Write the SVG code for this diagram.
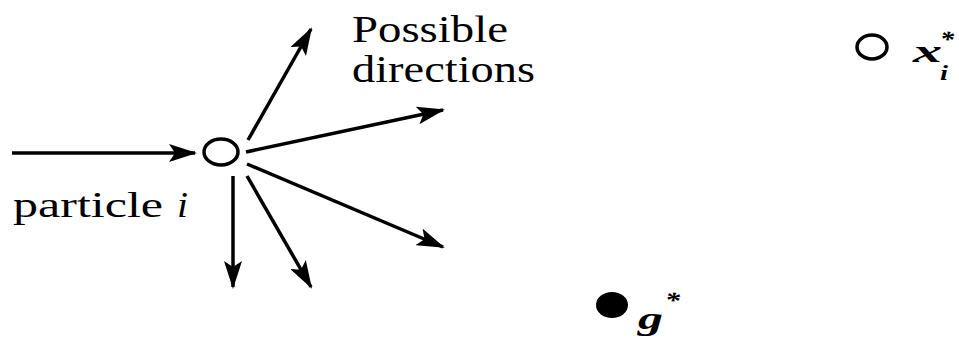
<svg xmlns="http://www.w3.org/2000/svg" width="959" height="338" viewBox="0 0 959 338">
<defs>
<style>
.ln{stroke:#000;stroke-width:3.5;fill:none;marker-end:url(#ah)}
.t{fill:#000}
.m{font-style:italic;font-weight:bold;fill:#000}
</style>
<marker id="ah" markerUnits="userSpaceOnUse" viewBox="0 0 28 18" markerWidth="28" markerHeight="18" refX="26" refY="9" orient="auto">
<path d="M0,0 L28,9 L0,18 L6,9 Z" fill="#000"/>
</marker>
</defs>
<rect width="959" height="338" fill="#fff"/>
<g id="connectors">
<line class="ln" x1="12" y1="153" x2="195" y2="153"/>
<line class="ln" x1="248" y1="140" x2="311" y2="29"/>
<line class="ln" x1="246" y1="152" x2="443" y2="110"/>
<line class="ln" x1="247" y1="164" x2="443" y2="247"/>
<line class="ln" x1="233" y1="176" x2="233" y2="287"/>
<line class="ln" x1="247" y1="176" x2="311" y2="287"/>
</g>
<g id="particle" font-family="'Liberation Serif', 'DejaVu Serif', 'Times New Roman', serif">
<ellipse cx="221" cy="152" rx="17" ry="13" fill="#fff" stroke="#000" stroke-width="3.5"/>
<text class="t" x="13" y="217" font-size="36" textLength="150" lengthAdjust="spacingAndGlyphs">particle</text>
<text class="t" x="177" y="217" font-size="36" font-style="italic" textLength="11" lengthAdjust="spacingAndGlyphs">i</text>
</g>
<g id="directions-label" font-family="'Liberation Serif', 'DejaVu Serif', 'Times New Roman', serif">
<text class="t" x="352" y="42" font-size="38" textLength="156" lengthAdjust="spacingAndGlyphs">Possible</text>
<text class="t" x="352" y="82" font-size="38" textLength="183" lengthAdjust="spacingAndGlyphs">directions</text>
</g>
<g id="xi-star" font-family="'Liberation Serif', 'DejaVu Serif', 'Times New Roman', serif">
<ellipse cx="872" cy="47" rx="15" ry="12" fill="#fff" stroke="#000" stroke-width="3.5"/>
<text class="m" x="913" y="62" font-size="32" textLength="29" lengthAdjust="spacingAndGlyphs">x</text>
<text class="m" x="940" y="80" font-size="22" textLength="8" lengthAdjust="spacingAndGlyphs">i</text>
<text class="m" x="940" y="47" font-size="24" font-style="normal" textLength="14" lengthAdjust="spacingAndGlyphs">*</text>
</g>
<g id="g-star" font-family="'Liberation Serif', 'DejaVu Serif', 'Times New Roman', serif">
<ellipse cx="612" cy="305" rx="16" ry="13" fill="#000"/>
<text class="m" x="638" y="329" font-size="32" textLength="25" lengthAdjust="spacingAndGlyphs">g</text>
<text class="m" x="665" y="308" font-size="24" font-style="normal" textLength="15" lengthAdjust="spacingAndGlyphs">*</text>
</g>
</svg>
